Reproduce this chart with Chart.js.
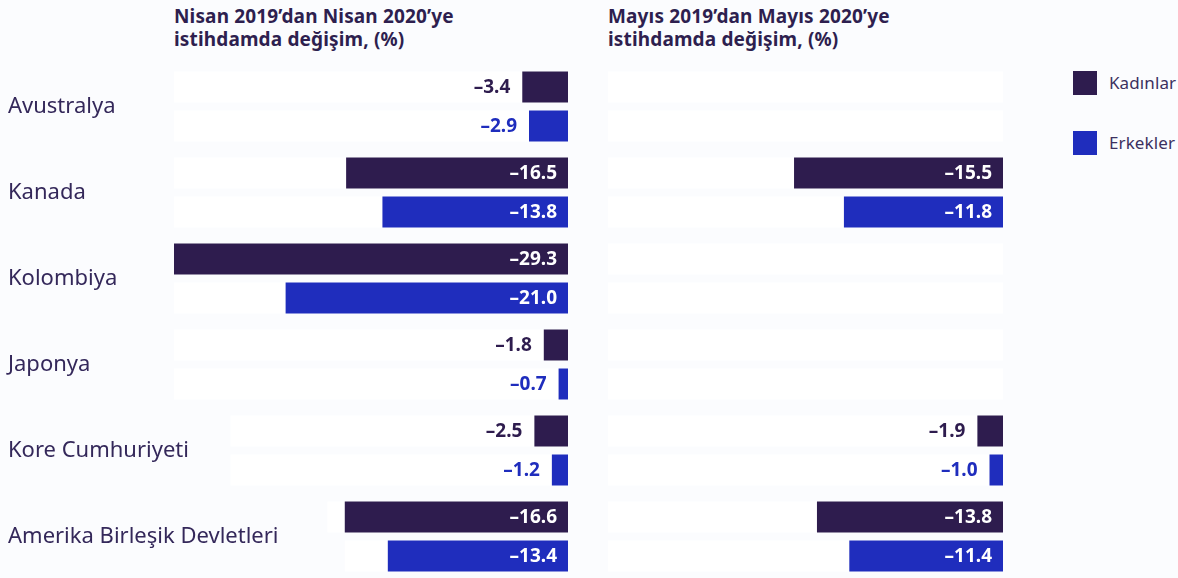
<!DOCTYPE html>
<html lang="tr">
<head>
<meta charset="utf-8">
<script src="https://cdn.jsdelivr.net/npm/chart.js@4.4.1/dist/chart.umd.min.js"></script>
<style>
  html, body { margin:0; padding:0; background:#fbfcfe; width:1178px; height:578px; overflow:hidden; font-family:"Noto Sans", sans-serif; }
  canvas { position:absolute; top:0; }
  .title { position:absolute; top:5px; font-weight:700; font-size:19px; line-height:23px; color:#2e1f4f; letter-spacing:0.15px; }
  .leg { position:absolute; left:1073px; width:200px; font-size:17px; color:#3b3060; }
  .leg span.sq { position:absolute; left:0; top:0; width:24px; height:24px; }
  .leg span.tx { position:absolute; left:36px; top:0px; line-height:24px; letter-spacing:0.1px; }
</style>
</head>
<body>
<div class="title" style="left:174px">Nisan 2019’dan Nisan 2020’ye<br>istihdamda değişim, (%)</div>
<div class="title" style="left:608px">Mayıs 2019’dan Mayıs 2020’ye<br>istihdamda değişim, (%)</div>
<div class="leg" style="top:71px"><span class="sq" style="background:#2e1c4e"></span><span class="tx">Kadınlar</span></div>
<div class="leg" style="top:131px"><span class="sq" style="background:#1f2dbd"></span><span class="tx">Erkekler</span></div>
<canvas id="cL" width="590" height="580" style="left:0px"></canvas>
<canvas id="cR" width="588" height="580" style="left:590px"></canvas>
<script>
const countries = ["Avustralya","Kanada","Kolombiya","Japonya","Kore Cumhuriyeti","Amerika Birleşik Devletleri"];
const seriesNames = ["Kadınlar","Erkekler"];
// Nisan 2019 - Nisan 2020
const aprWomen = [-3.4, -16.5, -29.3, -1.8, -2.5, -16.6];
const aprMen   = [-2.9, -13.8, -21.0, -0.7, -1.2, -13.4];
// Mayıs 2019 - Mayıs 2020
const mayWomen = [null, -15.5, null, null, -1.9, -13.8];
const mayMen   = [null, -11.8, null, null, -1.0, -11.4];
// extent of the white background track behind each bar (axis units)
const aprTrackWomen = [-29.3, -29.3, -29.3, -29.3, -25.1, -17.9];
const aprTrackMen   = [-29.3, -29.3, -29.3, -29.3, -25.1, -16.6];
const mayTrackWomen = [-29.3, -29.3, -29.3, -29.3, -29.3, -29.3];
const mayTrackMen   = [-29.3, -29.3, -29.3, -29.3, -29.3, -29.3];
const axisMin = -29.3, axisMax = 0;

const colWomen = "#2e1c4e", colMen = "#1f2dbd", textCol = "#34285a";
const FONT = "'Noto Sans', sans-serif";

function fmt(v){ return "\u2013" + Math.abs(v).toFixed(1); }

const trackPlugin = {
  id:'tracks',
  beforeDatasetsDraw(chart){
    const ctx = chart.ctx, xs = chart.scales.x;
    chart.data.datasets.forEach((ds, di) => {
      const meta = chart.getDatasetMeta(di);
      meta.data.forEach((el, i) => {
        const x0 = xs.getPixelForValue(ds.track[i]), x1 = xs.getPixelForValue(0);
        ctx.save();
        ctx.fillStyle = "#ffffff";
        ctx.fillRect(x0, el.y - el.height/2, x1 - x0, el.height);
        ctx.restore();
      });
    });
  }
};
const labelPlugin = {
  id:'vlabels',
  afterDatasetsDraw(chart){
    const ctx = chart.ctx;
    chart.data.datasets.forEach((ds, di) => {
      const meta = chart.getDatasetMeta(di);
      meta.data.forEach((el, i) => {
        const v = ds.data[i];
        if (v === null || v === undefined) return;
        ctx.save();
        ctx.font = "700 19px " + FONT;
        ctx.textBaseline = "middle";
        ctx.textAlign = "right";
        const inside = Math.abs(v) > 5;
        if (inside) { ctx.fillStyle = "#ffffff"; ctx.fillText(fmt(v), el.base - 11, el.y + 1); }
        else { ctx.fillStyle = ds.backgroundColor; ctx.fillText(fmt(v), el.x - 12, el.y + 1); }
        ctx.restore();
      });
    });
  }
};
const categoryPlugin = {
  id:'cats',
  afterDraw(chart, args, opts){
    if (!opts.show) return;
    const ctx = chart.ctx, ys = chart.scales.y;
    ctx.save();
    ctx.font = "400 22px " + FONT;
    ctx.fillStyle = textCol;
    ctx.textAlign = "left";
    ctx.textBaseline = "middle";
    chart.data.labels.forEach((lab, i) => {
      ctx.fillText(lab, 8, ys.getPixelForValue(i));
    });
    ctx.restore();
  }
};

function makeChart(id, women, men, tw, tm, showLabels, padL, padR){
  return new Chart(document.getElementById(id), {
    type:'bar',
    data:{
      labels: countries,
      datasets:[
        { label: seriesNames[0], data: women, track: tw, backgroundColor: colWomen },
        { label: seriesNames[1], data: men, track: tm, backgroundColor: colMen }
      ]
    },
    options:{
      indexAxis:'y',
      responsive:false, animation:false,
      categoryPercentage:0.907, barPercentage:0.795,
      layout:{ padding:{ left:padL, right:padR, top:63.5, bottom:0.5 } },
      plugins:{ legend:{display:false}, tooltip:{enabled:false}, title:{display:false}, cats:{ show: showLabels } },
      scales:{
        x:{ min:axisMin, max:axisMax, display:false, grid:{display:false} },
        y:{ display:false, grid:{ display:false } }
      }
    },
    plugins:[trackPlugin, labelPlugin, categoryPlugin]
  });
}
makeChart('cL', aprWomen, aprMen, aprTrackWomen, aprTrackMen, true, 174, 22);
makeChart('cR', mayWomen, mayMen, mayTrackWomen, mayTrackMen, false, 18, 175);
</script>
</body>
</html>
